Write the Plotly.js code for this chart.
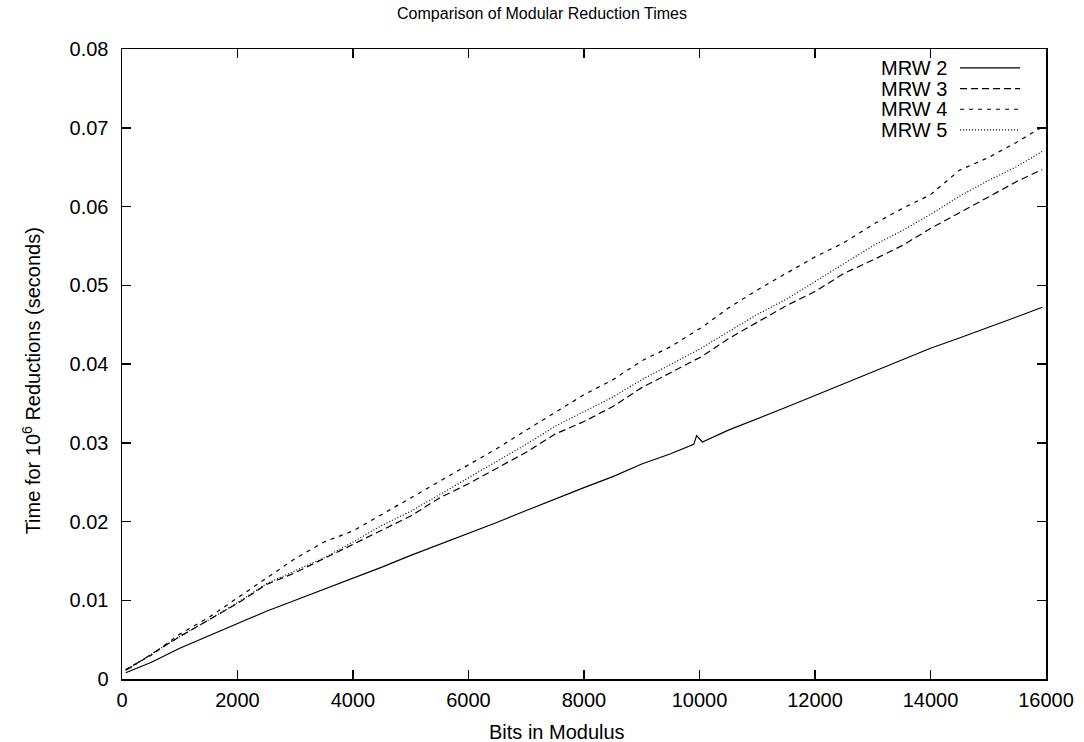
<!DOCTYPE html>
<html>
<head>
<meta charset="utf-8">
<script src="https://cdn.plot.ly/plotly-3.0.1.min.js"></script>
<style>html,body{margin:0;padding:0;background:#fff;}#chart{width:1084px;height:742px;}</style>
</head>
<body>
<div id="chart"></div>
<script>
const bits = [64, 500, 1000, 1500, 2000, 2500, 3000, 3500, 4000, 4500, 5000, 5500, 6000, 6500, 7000, 7500, 8000, 8500, 9000, 9500, 9900, 9950, 10050, 10500, 11000, 11500, 12000, 12500, 13000, 13500, 14000, 14500, 15000, 15500, 15936];

const mrw2 = [0.0008, 0.0021, 0.0039, 0.0055, 0.0070, 0.0086, 0.0100, 0.0114, 0.0128, 0.0142, 0.0157, 0.0171, 0.0185, 0.0199, 0.0214, 0.0229, 0.0243, 0.0257, 0.0273, 0.0286, 0.0298, 0.0309, 0.0301, 0.0316, 0.0330, 0.0345, 0.0360, 0.0375, 0.0390, 0.0405, 0.0420, 0.0433, 0.0447, 0.0460, 0.0472];
const mrw3 = [0.0011, 0.0031, 0.0054, 0.0075, 0.0096, 0.0120, 0.0135, 0.0153, 0.0171, 0.0190, 0.0207, 0.0230, 0.0248, 0.0268, 0.0288, 0.0311, 0.0327, 0.0346, 0.0370, 0.0389, 0.0404, 0.0406, 0.0410, 0.0432, 0.0453, 0.0474, 0.0492, 0.0515, 0.0532, 0.0550, 0.0572, 0.0592, 0.0611, 0.0632, 0.0647];
const mrw4 = [0.0012, 0.0030, 0.0057, 0.0078, 0.0103, 0.0128, 0.0153, 0.0174, 0.0188, 0.0209, 0.0230, 0.0252, 0.0272, 0.0293, 0.0316, 0.0339, 0.0361, 0.0380, 0.0404, 0.0422, 0.0440, 0.0443, 0.0447, 0.0471, 0.0494, 0.0515, 0.0536, 0.0554, 0.0577, 0.0597, 0.0615, 0.0646, 0.0662, 0.0682, 0.0701];
const mrw5 = [0.0011, 0.0031, 0.0054, 0.0075, 0.0097, 0.0121, 0.0137, 0.0154, 0.0174, 0.0195, 0.0213, 0.0234, 0.0255, 0.0276, 0.0298, 0.0321, 0.0340, 0.0358, 0.0380, 0.0399, 0.0415, 0.0417, 0.0421, 0.0441, 0.0463, 0.0482, 0.0505, 0.0528, 0.0550, 0.0569, 0.0590, 0.0613, 0.0633, 0.0651, 0.0670];

const seriesNames = ['MRW 2', 'MRW 3', 'MRW 4', 'MRW 5'];
const seriesData = [mrw2, mrw3, mrw4, mrw5];
const dashes = ['solid', '7px,4px', '4px,5px', '1px,2px'];

const xTickVals = [0, 2000, 4000, 6000, 8000, 10000, 12000, 14000, 16000];
const xTickText = ['0', '2000', '4000', '6000', '8000', '10000', '12000', '14000', '16000'];
const yTickVals = [0, 0.01, 0.02, 0.03, 0.04, 0.05, 0.06, 0.07, 0.08];
const yTickText = ['0', '0.01', '0.02', '0.03', '0.04', '0.05', '0.06', '0.07', '0.08'];

const FONT = 'Liberation Sans, Arial, Helvetica, sans-serif';
const TXT = 20;

const traces = seriesData.map((ys, i) => ({
  x: bits, y: ys, name: seriesNames[i], type: 'scatter', mode: 'lines',
  line: {color: '#000', width: 1.2, dash: dashes[i]},
  showlegend: false, hoverinfo: 'x+y+name'
}));

// Custom gnuplot-style legend (text right-aligned, sample on the right)
const legTop = 0.970, legStep = 0.0328;
const annotations = [], shapes = [];
seriesNames.forEach((n, i) => {
  const yy = legTop - i * legStep;
  annotations.push({xref: 'paper', yref: 'paper', x: 0.895, y: yy, xanchor: 'right', yanchor: 'middle',
    text: n, showarrow: false, font: {family: FONT, size: TXT, color: '#000'}});
  shapes.push({type: 'line', xref: 'paper', yref: 'paper', x0: 0.907, x1: 0.972, y0: yy, y1: yy,
    line: {color: '#000', width: 1.2, dash: dashes[i]}});
});

// Axis titles placed like the original (slightly off-centre)
annotations.push({xref: 'paper', yref: 'paper', x: 0.4713, y: -0.084, xanchor: 'center', yanchor: 'middle',
  text: 'Bits in Modulus', showarrow: false, font: {family: FONT, size: TXT, color: '#000'}});
annotations.push({xref: 'paper', yref: 'paper', x: -0.0985, y: 0.474, xanchor: 'center', yanchor: 'middle',
  textangle: -90, text: 'Time for 10<sup>6</sup> Reductions (seconds)', showarrow: false,
  font: {family: FONT, size: TXT, color: '#000'}});

const axisCommon = {
  showline: true, linecolor: '#000', linewidth: 1.5, mirror: 'ticks',
  ticks: 'inside', ticklen: 9, tickwidth: 1.5, tickcolor: '#000',
  showgrid: false, zeroline: false,
  tickfont: {family: FONT, size: TXT, color: '#000'}
};

const layout = {
  width: 1084, height: 742,
  margin: {l: 122, r: 38, t: 49, b: 63},
  paper_bgcolor: '#fff', plot_bgcolor: '#fff',
  title: {text: 'Comparison of Modular Reduction Times', font: {family: FONT, size: 16, color: '#000'},
          x: 0.5, xanchor: 'center', y: 0.982, yanchor: 'middle'},
  xaxis: Object.assign({}, axisCommon, {
    range: [0, 16000], tickvals: xTickVals, ticktext: xTickText, ticklabelstandoff: 2
  }),
  yaxis: Object.assign({}, axisCommon, {
    range: [0, 0.08], tickvals: yTickVals, ticktext: yTickText, ticklabelstandoff: 8
  }),
  annotations: annotations,
  shapes: shapes,
  showlegend: false
};

Plotly.newPlot('chart', traces, layout, {displayModeBar: false, staticPlot: true});
</script>
</body>
</html>
